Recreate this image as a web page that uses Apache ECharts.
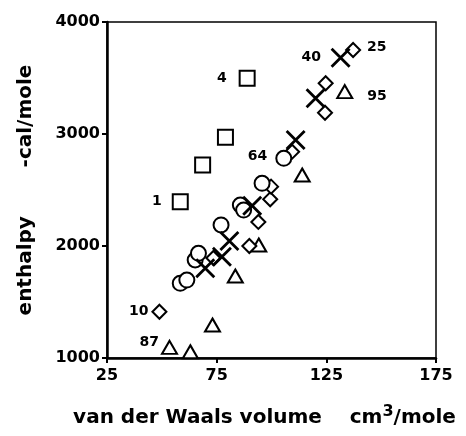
<!DOCTYPE html>
<html><head><meta charset="utf-8">
<script src="https://cdn.jsdelivr.net/npm/echarts@6/dist/echarts.min.js"></script>
<style>html,body{margin:0;padding:0;background:#fff}#c{width:466px;height:436px}</style>
</head><body><div id="c"></div>
<script>
// x: van der Waals volume (cm3/mole), y: enthalpy (-cal/mole)
const squareX = [58.4, 68.6, 79.0, 88.9];
const squareY = [2396, 2723, 2970, 3497];
const squareLabels = ['1', '', '', '4'];

const triangleX = [53.5, 63.0, 73.1, 83.5, 94.2, 114.0, 133.4];
const triangleY = [1095, 1056, 1295, 1732, 2009, 2634, 3378];
const triangleLabels = ['87', '', '', '', '', '', '95'];

const diamondX = [48.9, 73.5, 89.9, 94.0, 99.4, 99.8, 109.4, 124.4, 124.7, 137.2];
const diamondY = [1413, 1893, 2000, 2215, 2417, 2530, 2842, 3190, 3453, 3750];
const diamondLabels = ['10', '', '', '', '', '', '', '', '', '25'];

const crossX = [69.8, 77.4, 80.8, 91.2, 111.0, 120.1, 131.5];
const crossY = [1801, 1904, 2045, 2359, 2946, 3319, 3681];
const crossLabels = ['', '', '', '', '', '', '40'];

const circleX = [58.4, 61.4, 65.2, 66.7, 77.0, 85.8, 87.3, 95.7, 105.6];
const circleY = [1667, 1696, 1875, 1935, 2188, 2366, 2321, 2560, 2783];
const circleLabels = ['', '', '', '', '', '', '', '', '64'];

const xTicks = [25, 75, 125, 175];
const yTicks = [1000, 2000, 3000, 4000];

const font = 'DejaVu Sans';

const labelPos = {
  '1': {position: 'left', distance: 10},
  '4': {position: 'left', distance: 12},
  '87': {position: 'left', distance: 2, offset: [0, -5]},
  '95': {position: 'right', distance: 14, offset: [0, 5]},
  '10': {position: 'left', distance: 3},
  '25': {position: 'right', distance: 6, offset: [0, -3]},
  '40': {position: 'left', distance: 8},
  '64': {position: 'left', distance: 8, offset: [0, -2]}
};

function build(xs, ys, labels) {
  return xs.map((x, i) => {
    const item = {value: [x, ys[i]]};
    if (labels[i]) {
      item.label = Object.assign({
        show: true, formatter: labels[i], color: '#000', opacity: 1,
        fontFamily: font, fontWeight: 'bold', fontSize: 14
      }, labelPos[labels[i]]);
    }
    return item;
  });
}

const markerStyle = {color: '#fff', borderColor: '#000', borderWidth: 2, opacity: 1};

const chart = echarts.init(document.getElementById('c'), null, {renderer: 'canvas'});
chart.setOption({
  animation: false,
  backgroundColor: '#fff',
  grid: {left: 107, right: 30, top: 22, bottom: 78, show: true, borderColor: '#000', borderWidth: 1.5, backgroundColor: 'transparent'},
  xAxis: {
    type: 'value', min: xTicks[0], max: xTicks[xTicks.length - 1], interval: 50,
    axisLine: {show: true, onZero: false, lineStyle: {color: '#000', width: 2.5}},
    axisTick: {show: true, length: 5, lineStyle: {color: '#000', width: 2}},
    axisLabel: {color: '#000', fontFamily: font, fontWeight: 'bold', fontSize: 16, margin: 10,
      formatter: v => String(v)},
    splitLine: {show: false},
    name: 'van der Waals volume    cm{sup|3}/mole',
    nameLocation: 'middle', nameGap: 46,
    nameTextStyle: {color: '#000', fontFamily: font, fontWeight: 'bold', fontSize: 20, padding: [0, 14, 0, 0],
      rich: {sup: {fontFamily: font, fontWeight: 'bold', fontSize: 16, color: '#000', padding: [0, 0, 12, 0]}}}
  },
  yAxis: {
    type: 'value', min: yTicks[0], max: yTicks[yTicks.length - 1], interval: 1000,
    axisLine: {show: true, onZero: false, lineStyle: {color: '#000', width: 2.5}},
    axisTick: {show: true, length: 5, lineStyle: {color: '#000', width: 2}},
    axisLabel: {color: '#000', fontFamily: font, fontWeight: 'bold', fontSize: 16, margin: 7,
      formatter: v => String(v)},
    splitLine: {show: false},
    name: 'enthalpy       -cal/mole',
    nameLocation: 'middle', nameGap: 71,
    nameTextStyle: {color: '#000', fontFamily: font, fontWeight: 'bold', fontSize: 20}
  },
  series: [
    {type: 'scatter', symbol: 'rect', symbolSize: 15, itemStyle: markerStyle, data: build(squareX, squareY, squareLabels)},
    {type: 'scatter', symbol: 'triangle', symbolSize: [15, 13], itemStyle: markerStyle, data: build(triangleX, triangleY, triangleLabels)},
    {type: 'scatter', symbol: 'diamond', symbolSize: 14, itemStyle: markerStyle, data: build(diamondX, diamondY, diamondLabels)},
    {type: 'scatter', symbol: 'circle', symbolSize: 15, itemStyle: markerStyle, data: build(circleX, circleY, circleLabels)},
    {type: 'scatter', symbol: 'path://M0,0L10,10M10,0L0,10', symbolSize: 18,
      itemStyle: {color: 'none', borderColor: '#000', borderWidth: 2.8, opacity: 1}, data: build(crossX, crossY, crossLabels)}
  ]
});
</script></body></html>
